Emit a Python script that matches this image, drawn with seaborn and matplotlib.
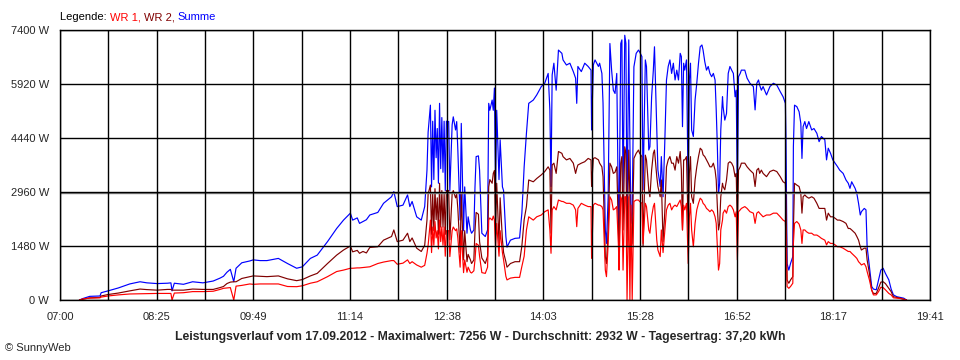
import matplotlib
matplotlib.use("Agg")
import matplotlib.pyplot as plt
import numpy as np
import pandas as pd
import seaborn as sns

zeit = [
    "07:17:00", "07:20:00", "07:26:00", "07:35:00", "07:36:00", "07:42:00", "07:51:00", "08:01:00", "08:10:00", "08:16:00",
    "08:25:00", "08:34:00", "08:37:00", "08:38:00", "08:40:00", "08:48:00", "08:56:00", "09:05:00", "09:14:00", "09:20:00",
    "09:23:00", "09:26:00", "09:29:00", "09:32:00", "09:34:00", "09:39:00", "09:46:00", "09:49:00", "09:55:00", "10:01:00",
    "10:11:00", "10:19:00", "10:27:00", "10:32:00", "10:39:00", "10:45:00", "10:54:00", "11:02:00", "11:08:00", "11:14:00",
    "11:16:00", "11:20:00", "11:22:00", "11:25:00", "11:28:00", "11:31:00", "11:38:00", "11:43:00", "11:50:00", "11:52:00",
    "11:55:00", "12:00:00", "12:04:00", "12:06:00", "12:08:00", "12:12:00", "12:16:00", "12:19:00", "12:21:00", "12:22:00",
    "12:24:00", "12:25:00", "12:26:00", "12:27:00", "12:28:00", "12:29:00", "12:30:00", "12:31:00", "12:32:00", "12:33:00",
    "12:34:00", "12:35:00", "12:36:00", "12:37:00", "12:38:00", "12:40:00", "12:41:00", "12:43:00", "12:44:00", "12:46:00",
    "12:47:00", "12:48:00", "12:50:00", "12:51:00", "12:53:00", "12:54:00", "12:56:00", "12:57:00", "12:59:00", "13:00:00",
    "13:02:00", "13:03:00", "13:04:00", "13:06:00", "13:07:00", "13:09:00", "13:12:00", "13:14:00", "13:15:00", "13:16:00",
    "13:18:00", "13:19:00", "13:20:00", "13:21:00", "13:22:00", "13:24:00", "13:25:00", "13:27:00", "13:28:00", "13:30:00",
    "13:31:00", "13:34:00", "13:38:00", "13:42:00", "13:44:00", "13:46:00", "13:48:00", "13:50:00", "13:54:00", "13:57:00",
    "14:01:00", "14:04:00", "14:07:00", "14:08:30", "14:09:30", "14:10:30", "14:12:00", "14:14:00", "14:16:00", "14:19:00",
    "14:20:00", "14:23:00", "14:26:00", "14:29:00", "14:31:00", "14:32:00", "14:33:00", "14:36:00", "14:39:00", "14:42:00",
    "14:44:30", "14:45:00", "14:46:30", "14:48:00", "14:51:00", "14:52:00", "14:54:00", "14:55:00", "14:57:00", "14:58:00",
    "14:59:30", "15:01:00", "15:02:30", "15:04:00", "15:05:30", "15:07:00", "15:08:30", "15:09:00", "15:10:30", "15:11:30",
    "15:12:30", "15:14:00", "15:15:00", "15:16:00", "15:17:30", "15:18:30", "15:19:30", "15:20:30", "15:22:00", "15:24:00",
    "15:26:00", "15:27:00", "15:29:00", "15:30:00", "15:32:00", "15:33:00", "15:35:00", "15:36:00", "15:37:30", "15:39:00",
    "15:40:00", "15:42:00", "15:43:00", "15:45:00", "15:46:00", "15:47:30", "15:49:00", "15:50:30", "15:52:00", "15:53:30",
    "15:55:00", "15:56:30", "15:58:00", "15:59:30", "16:01:00", "16:02:30", "16:03:30", "16:04:30", "16:05:30", "16:06:30",
    "16:08:00", "16:09:30", "16:10:30", "16:11:30", "16:12:30", "16:14:00", "16:15:30", "16:17:00", "16:18:30", "16:20:00",
    "16:21:30", "16:22:30", "16:24:00", "16:25:30", "16:27:00", "16:28:30", "16:30:00", "16:31:30", "16:33:00", "16:34:00",
    "16:35:00", "16:36:00", "16:37:00", "16:38:00", "16:39:30", "16:40:00", "16:41:30", "16:43:00", "16:44:30", "16:46:00",
    "16:47:30", "16:49:00", "16:50:30", "16:51:30", "16:52:30", "16:53:30", "16:55:00", "16:56:00", "16:59:00", "17:01:00",
    "17:03:30", "17:06:30", "17:08:00", "17:09:30", "17:11:00", "17:12:00", "17:13:30", "17:15:00", "17:18:00", "17:21:00",
    "17:24:00", "17:27:00", "17:30:00", "17:32:30", "17:34:30", "17:35:00", "17:36:00", "17:37:30", "17:39:00", "17:41:00",
    "17:41:30", "17:42:30", "17:44:30", "17:46:30", "17:48:00", "17:49:00", "17:50:00", "17:51:30", "17:53:00", "17:55:00",
    "17:57:30", "17:59:30", "18:02:00", "18:04:00", "18:06:00", "18:09:00", "18:10:30", "18:12:00", "18:14:00", "18:16:00",
    "18:18:00", "18:20:00", "18:22:00", "18:25:00", "18:27:30", "18:29:30", "18:31:00", "18:32:30", "18:35:30", "18:37:00",
    "18:38:30", "18:40:00", "18:41:00", "18:43:30", "18:45:00", "18:46:00", "18:48:00", "18:50:00", "18:51:30", "18:54:00",
    "18:56:00", "18:58:00", "19:00:00", "19:02:00", "19:05:00", "19:07:00", "19:09:00", "19:12:00", "19:15:00", "19:18:00",
    "19:20:30",
]

wr1 = [
    0, 30, 50, 60, 80, 110, 140, 165, 170, 175,
    180, 180, 180, 0, 190, 200, 230, 230, 240, 290,
    320, 330, 340, 0, 380, 400, 440, 430, 440, 440,
    440, 370, 365, 390, 460, 500, 640, 780, 820, 870,
    870, 880, 880, 890, 900, 910, 1000, 1040, 1080, 1080,
    980, 1010, 1100, 1000, 1050, 960, 900, 950, 1280, 1500,
    2190, 1300, 2000, 1500, 2150, 1700, 1900, 1400, 2190, 1600,
    2000, 1500, 2000, 1200, 1900, 1900, 1190, 1900, 2000, 1900,
    1950, 1700, 900, 1900, 750, 1100, 760, 900, 760, 740,
    800, 1100, 1550, 1500, 1200, 750, 730, 900, 2190, 2250,
    2190, 2300, 2200, 1450, 2100, 1200, 1900, 1300, 1100, 650,
    550, 600, 620, 620, 920, 1200, 1920, 2280, 2190, 2280,
    2330, 2420, 2470, 1920, 1280, 2470, 2560, 2470, 2740, 2700,
    2700, 2650, 2650, 2600, 2470, 2010, 2510, 2650, 2600, 2560,
    2560, 1140, 2600, 2650, 2600, 2600, 2560, 2470, 820, 640,
    1550, 2830, 2740, 2470, 2500, 2560, 1460, 820, 2830, 2740,
    820, 2830, 2830, 0, 2830, 0, 2600, 0, 2700, 2740,
    2740, 2700, 2650, 1550, 2650, 2560, 1920, 1830, 2280, 2560,
    2650, 1640, 1370, 1190, 1920, 1300, 1900, 2470, 2600, 2650,
    2470, 2560, 2600, 2560, 2650, 2740, 2560, 1920, 2600, 2470,
    2650, 1000, 2280, 2650, 1920, 1460, 2100, 2470, 2650, 2790,
    2740, 2650, 2600, 2510, 2470, 2420, 2470, 2420, 2280, 2100,
    1460, 820, 1000, 1920, 2190, 2380, 2470, 2380, 2560, 2600,
    2560, 2470, 2280, 2420, 1100, 2420, 2470, 2510, 2560, 2510,
    2420, 2380, 2100, 2380, 2420, 2380, 2330, 2280, 2330, 2330,
    2380, 2380, 2280, 2190, 2150, 1740, 370, 320, 370, 460,
    1550, 2100, 2150, 2080, 1920, 1550, 1920, 1920, 1870, 1830,
    1830, 1780, 1780, 1740, 1690, 1640, 1510, 1600, 1550, 1550,
    1510, 1460, 1460, 1420, 1370, 1330, 1330, 1280, 1190, 1140,
    1050, 1000, 960, 1000, 910, 780, 550, 270, 140, 140,
    230, 350, 340, 280, 180, 140, 60, 50, 40, 20,
    0,
]

wr2 = [
    0, 20, 60, 70, 110, 150, 190, 250, 300, 285,
    270, 290, 290, 270, 270, 270, 300, 290, 290, 340,
    370, 450, 490, 500, 500, 590, 640, 660, 650, 640,
    660, 580, 530, 560, 660, 730, 1000, 1230, 1370, 1480,
    1320, 1360, 1280, 1330, 1290, 1440, 1460, 1640, 1740, 1920,
    1600, 1640, 1830, 1600, 1700, 1420, 1330, 1500, 2190, 2900,
    3150, 1800, 2900, 1900, 3050, 2200, 2800, 1800, 3200, 2000,
    3000, 2000, 2900, 1800, 3000, 3000, 1650, 2900, 3000, 2800,
    2900, 2500, 1300, 2900, 1100, 1900, 1050, 1250, 1100, 1000,
    1100, 1900, 2400, 2350, 1600, 1150, 1000, 1200, 3100, 3300,
    3200, 3470, 3550, 1900, 3200, 1550, 2800, 1650, 1300, 1050,
    900, 1000, 1050, 1050, 1480, 2200, 2560, 3290, 3240, 3330,
    3430, 3520, 3650, 3560, 1830, 3700, 3750, 3470, 4070, 4020,
    3930, 3840, 3880, 3750, 3470, 3600, 3700, 3750, 3790, 3880,
    3840, 3110, 3880, 3900, 3840, 3750, 3650, 3380, 1190, 1000,
    1920, 3750, 3650, 3470, 3500, 3650, 1920, 1190, 3750, 3930,
    1920, 4200, 4020, 1460, 4110, 2830, 1460, 1550, 3880, 4020,
    4110, 4020, 3930, 1460, 3970, 3840, 3020, 2830, 3560, 4020,
    4110, 3380, 3110, 2830, 3290, 1600, 2400, 3650, 3840, 3930,
    3750, 3750, 3560, 3930, 3750, 4070, 3560, 1920, 3840, 3840,
    3930, 1920, 3470, 3930, 2830, 2650, 3290, 3650, 3930, 4160,
    4110, 3980, 3930, 3840, 3750, 3650, 3650, 3750, 3560, 3290,
    2560, 1920, 2100, 2830, 3200, 3110, 3020, 3290, 3750, 3790,
    3750, 3650, 3380, 3470, 1920, 3560, 3650, 3750, 3750, 3650,
    3560, 3470, 3110, 3560, 3610, 3470, 3560, 3470, 3380, 3520,
    3560, 3520, 3380, 3240, 3200, 2830, 550, 460, 550, 640,
    1920, 3200, 3150, 3110, 2920, 2380, 2830, 2880, 2830, 2790,
    2830, 2790, 2650, 2510, 2510, 2510, 2190, 2380, 2280, 2280,
    2240, 2190, 2190, 2150, 2100, 1960, 1960, 1920, 1830, 1740,
    1640, 1460, 1370, 1420, 1420, 1100, 730, 270, 180, 180,
    330, 490, 500, 450, 320, 230, 90, 70, 50, 20,
    0,
]

summe = [
    0, 40, 100, 110, 200, 250, 330, 440, 500, 470,
    450, 460, 470, 250, 460, 430, 500, 470, 520, 600,
    650, 760, 840, 500, 870, 1020, 1070, 1100, 1080, 1080,
    1140, 1000, 870, 910, 1140, 1230, 1600, 1960, 2190, 2380,
    2190, 2250, 2100, 2150, 2200, 2330, 2400, 2650, 2830, 2970,
    2560, 2600, 2880, 2560, 2700, 2280, 2190, 2560, 3560, 4600,
    5340, 3100, 4900, 3300, 5200, 3900, 4700, 3200, 5390, 3600,
    5000, 3500, 4900, 3000, 4900, 4890, 3000, 4800, 5020, 4660,
    4890, 4110, 2190, 4840, 1900, 3100, 1830, 2280, 1920, 1830,
    1920, 3100, 3930, 3950, 3560, 1830, 1740, 1920, 5390, 5200,
    5480, 5200, 5810, 3100, 5200, 3300, 4390, 3100, 3000, 1740,
    1450, 1640, 1690, 1700, 2380, 3650, 4570, 5390, 5480, 5620,
    5850, 5940, 6210, 5210, 3110, 6170, 6490, 5750, 6850, 6760,
    6580, 6440, 6490, 6260, 6080, 5390, 6400, 6260, 6490, 6400,
    6300, 4660, 6440, 6580, 6400, 6490, 6210, 5390, 1920, 1550,
    2830, 7030, 6300, 5750, 5660, 6210, 2280, 1920, 7030, 7130,
    2830, 7256, 7030, 2100, 7130, 4290, 2100, 2380, 6390, 6760,
    6850, 6800, 6670, 3020, 6580, 6400, 4110, 4200, 5570, 6300,
    6940, 4660, 3560, 3110, 3930, 2830, 4300, 6030, 6400, 6580,
    6210, 6490, 6030, 6300, 6030, 6760, 6670, 4750, 6490, 6300,
    6580, 2920, 6030, 6490, 4660, 4480, 5480, 5940, 6490, 6940,
    6990, 6850, 6530, 6300, 6400, 6210, 6120, 6210, 6030, 5210,
    4200, 2920, 3200, 4660, 5570, 5300, 4930, 5110, 6210, 6400,
    6300, 6210, 5570, 5750, 2830, 6120, 6210, 6300, 6300, 6080,
    5940, 5850, 5210, 5940, 6030, 5890, 5750, 5850, 5620, 5850,
    5940, 5890, 5710, 5570, 5390, 4480, 1000, 820, 1000, 1190,
    4200, 5340, 5300, 5160, 4840, 3880, 4750, 4890, 4700, 4890,
    4660, 4700, 4570, 4340, 4480, 4390, 3840, 4160, 4020, 3840,
    3750, 3660, 3560, 3470, 3290, 3200, 3060, 3240, 3060, 2920,
    2650, 2330, 2420, 2510, 2470, 1460, 920, 370, 300, 280,
    550, 820, 870, 730, 550, 300, 140, 90, 70, 50,
    0,
]

# Achsen und Beschriftung
x_labels = ["07:00", "08:25", "09:49", "11:14", "12:38", "14:03", "15:28", "16:52", "18:17", "19:41"]
y_ticks = [0, 1480, 2960, 4440, 5920, 7400]
y_labels = ["0 W", "1480 W", "2960 W", "4440 W", "5920 W", "7400 W"]

datum = "17.09.2012"
maximalwert = 7256
durchschnitt = 2932
tagesertrag = "37,20"

farben = {"WR 1": "#ff0000", "WR 2": "#800000", "Summe": "#0000ff"}

sns.set_style("white")
plt.rcParams["font.family"] = ["Liberation Sans", "DejaVu Sans"]

df = pd.DataFrame({"zeit": zeit, "WR 1": wr1, "WR 2": wr2, "Summe": summe})
df["minute"] = pd.to_timedelta(df["zeit"]).dt.total_seconds() / 60
lang = df.melt(id_vars="minute", value_vars=["Summe", "WR 2", "WR 1"],
               var_name="reihe", value_name="leistung")

fig = plt.figure(figsize=(9.6, 3.6), dpi=100)
ax = fig.add_axes([60 / 960, 60 / 360, 870 / 960, 270 / 360])

sns.lineplot(data=lang, x="minute", y="leistung", hue="reihe",
             hue_order=["Summe", "WR 2", "WR 1"], palette=farben,
             estimator=None, sort=False, linewidth=0.85, legend=False, ax=ax)

# Durchschnitt als graue Linie knapp unter der 2960-W-Linie
ax.axhline(durchschnitt, color="#808080", linewidth=1.0, zorder=2.4)

# Zeitachse: 18 gleiche Abschnitte, jede zweite Linie beschriftet
def to_min(s):
    h, m = s.split(":")
    return int(h) * 60 + int(m)

x0, x1 = to_min(x_labels[0]), to_min(x_labels[-1])
alle = np.linspace(x0, x1, 2 * len(x_labels) - 1)
ax.set_xlim(x0, x1)
ax.set_xticks(alle[::2])
ax.set_xticklabels(x_labels)
ax.set_xticks(alle[1::2], minor=True)

ax.set_ylim(y_ticks[0], y_ticks[-1])
ax.set_yticks(y_ticks)
ax.set_yticklabels(y_labels)

ax.set_axisbelow(False)
ax.grid(True, which="both", color="black", linewidth=1.0)
ax.tick_params(axis="x", which="both", direction="out", length=4, width=1,
               color="black", labelsize=8, pad=5)
ax.tick_params(axis="y", which="both", direction="out", length=5, width=1,
               color="black", labelsize=8, pad=3)
for sp in ax.spines.values():
    sp.set_color("black")
    sp.set_linewidth(1.0)
ax.set_xlabel("")
ax.set_ylabel("")

# Legende als farbiger Text oben links
renderer = fig.canvas.get_renderer()
x = 60 / 960
for txt, col in [("Legende: ", "black"), ("WR 1, ", farben["WR 1"]),
                 ("WR 2, ", farben["WR 2"]), ("Summe", farben["Summe"])]:
    t = fig.text(x, 1 - 17 / 360, txt, color=col, fontsize=8, va="center", ha="left")
    x += t.get_window_extent(renderer).width / fig.bbox.width

titel = (f"Leistungsverlauf vom {datum} - Maximalwert: {maximalwert} W - "
         f"Durchschnitt: {durchschnitt} W - Tagesertrag: {tagesertrag} kWh")
fig.text(0.5, 23 / 360, titel, fontsize=8.8, fontweight="bold", ha="center", va="center")
fig.text(5 / 960, 12 / 360, "\u00a9 SunnyWeb", fontsize=8, ha="left", va="center")

fig.savefig("out.png", dpi=100, facecolor="white")
